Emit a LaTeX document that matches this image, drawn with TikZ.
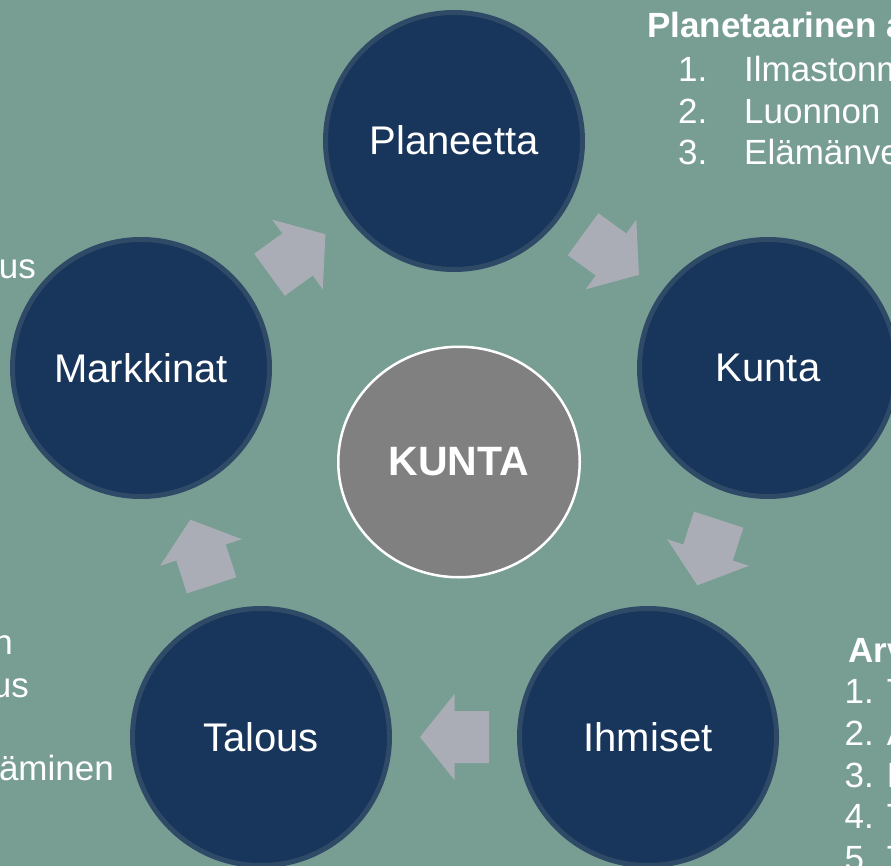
\documentclass[tikz,border=0pt]{standalone}
\usepackage{fontspec}
\setmainfont{Liberation Sans}
\usetikzlibrary{calc,shapes.geometric}
\definecolor{bgcol}{RGB}{120,158,148}
\definecolor{circfill}{RGB}{24,53,91}
\definecolor{ringcol}{RGB}{46,74,102}
\definecolor{arrowcol}{RGB}{170,173,182}
\definecolor{hubfill}{RGB}{128,128,128}
\tikzset{
  stage/.style={circle, draw=ringcol, line width=5pt, fill=circfill,
    minimum size=257pt, inner sep=0pt, text=white,
    font=\fontsize{40}{48}\selectfont},
  hub/.style={ellipse, draw=white, line width=2.5pt, fill=hubfill,
    minimum width=241.5pt, minimum height=230.5pt, inner sep=0pt,
    text=white, font=\fontsize{41}{49}\selectfont\bfseries},
  sidetext/.style={text=white, inner sep=0pt,
    font=\fontsize{35}{42}\selectfont},
  sidehead/.style={text=white, inner sep=0pt,
    font=\fontsize{35}{42}\selectfont\bfseries},
  blockarr/.pic={\fill[arrowcol] (-34.5,-26) -- (0,-26) -- (0,-43) -- (34.5,0)
    -- (0,43) -- (0,26) -- (-34.5,26) -- cycle;}
}
\begin{document}
\begin{tikzpicture}[x=1pt,y=-1pt]
\useasboundingbox (0,0) rectangle (891,866);
\fill[bgcol] (0,0) rectangle (891,866);
\clip (0,0) rectangle (891,866);
% stages
\node[stage] (planeetta) at (454,141) {\raisebox{2pt}{Planeetta}};
\node[stage] (kunta) at (768,368) {Kunta};
\node[stage] (ihmiset) at (648,737) {Ihmiset};
\node[stage] (talous) at (261,737) {Talous};
\node[stage] (markkinat) at (141,368) {Markkinat};
\node[hub] (hub) at (459,462) {KUNTA};
% block arrows
\pic[rotate=36] (a1) at ($(markkinat)!0.5!(planeetta)$) {blockarr};
\pic[rotate=-36] (a2) at ($(planeetta)!0.5!(kunta)$) {blockarr};
\pic[rotate=-108] (a3) at ($(kunta)!0.5!(ihmiset)$) {blockarr};
\pic[rotate=180] (a4) at ($(ihmiset)!0.5!(talous)$) {blockarr};
\pic[rotate=108] (a5) at ($(talous)!0.5!(markkinat)$) {blockarr};
% top right text
\node[sidehead, anchor=base west] (trh) at (647,38) {Planetaarinen a};
\node[sidetext, anchor=base west] (trn1) at (678,82) {1.};
\node[sidetext, anchor=base west] (trt1) at (744,82) {Ilmastonm};
\node[sidetext, anchor=base west] (trn2) at (678,124) {2.};
\node[sidetext, anchor=base west] (trt2) at (744,124) {Luonnon};
\node[sidetext, anchor=base west] (trn3) at (678,165) {3.};
\node[sidetext, anchor=base west] (trt3) at (744,165) {Elämänve};
% bottom right text
\node[sidehead, anchor=base west] (brh) at (848,662) {Arv};
\node[sidetext, anchor=base west] (br1) at (844.5,703.7) {1. T};
\node[sidetext, anchor=base west] (br2) at (844.5,745.4) {2. A};
\node[sidetext, anchor=base west] (br3) at (844.5,787) {3. E};
\node[sidetext, anchor=base west] (br4) at (844.5,828.8) {4. T};
\node[sidetext, anchor=base west] (br5) at (844.5,870.5) {5. T};
% left text
\node[sidetext, anchor=base east] (tl1) at (36,279) {us};
\node[sidetext, anchor=base east] (bl1) at (13,654) {n};
\node[sidetext, anchor=base east] (bl2) at (29,697) {us};
\node[sidetext, anchor=base east] (bl3) at (114,780) {äminen};
\end{tikzpicture}
\end{document}
